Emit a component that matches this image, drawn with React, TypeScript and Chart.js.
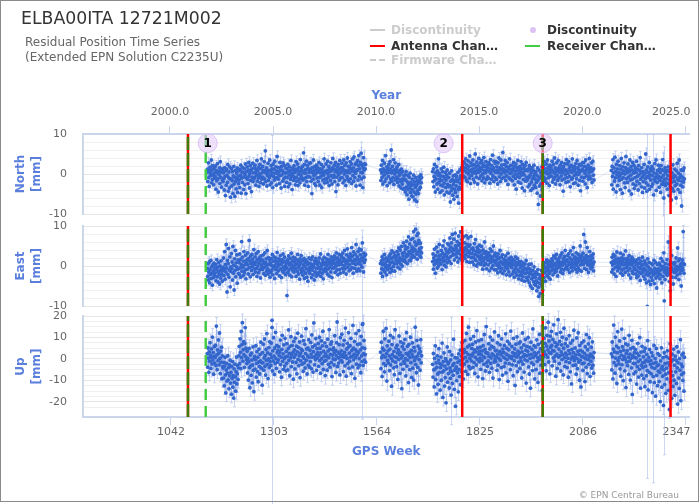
import React, { useEffect, useRef } from 'react';
import { Chart, registerables } from 'chart.js';

Chart.register(...registerables);

// ---------------- data ----------------
// first GPS week of each continuous data segment (weekly samples)
const SEGMENT_START_WEEKS = [1134, 1573, 1705, 2158];

const northA = [
  1.2,-1.9,0.5,2.8,-0.9,-3.1,0.8,1.7,-0.4,0.1,3.5,-2.2,1.0,-1.4,2.1,-0.3,-2.7,1.4,0.3,-1.0,
  -0.6,2.0,-3.8,0.9,-1.7,0.3,2.6,-1.2,-4.5,0.6,-0.2,1.5,-2.4,3.1,-0.8,0.5,-3.3,1.3,-1.5,0.9,
  -1.9,0.3,-1.1,-4.0,1.6,-0.6,-5.4,0.8,-2.8,1.2,-0.3,-2.1,2.4,-4.3,-0.9,0.5,-3.5,1.8,-1.3,-5.8,
  -1.2,1.3,-3.0,-1.6,0.6,-4.9,-0.5,1.9,-2.5,-0.8,-5.6,0.9,-1.8,-3.7,0.2,-1.3,1.5,-4.6,-0.6,-2.4,
  0.8,-1.5,-3.4,1.2,-0.3,2.2,-4.8,-1.0,0.5,-2.1,1.6,-0.8,-3.9,0.3,1.3,-2.7,-0.2,2.5,-4.9,-0.9,
  0.6,1.8,-1.3,-2.4,1.0,2.9,-0.5,-3.5,0.2,2.1,-1.6,0.9,-4.4,1.3,-0.8,2.7,-1.9,0.3,-1.2,1.5,
  -0.9,2.2,0.4,-2.8,1.2,-0.3,3.4,-1.8,0.8,-1.0,1.6,-3.1,0.0,2.4,-0.6,-2.2,1.3,3.8,-1.3,0.3,
  1.9,-0.8,-2.5,0.9,3.1,-1.2,0.6,5.8,-1.9,0.2,1.5,-3.0,1.0,-0.4,2.7,-1.6,0.5,-0.9,3.5,-2.7,
  0.9,-0.3,2.1,-2.2,1.3,0.3,-3.4,2.5,-0.6,1.2,-1.5,3.2,0.2,-1.0,1.8,-2.8,0.8,4.4,-0.9,0.0,
  -1.3,1.6,0.6,-2.4,2.9,-0.4,1.0,-3.5,1.9,-0.2,0.9,-1.8,2.8,0.4,-1.2,2.2,-3.1,0.3,-0.8,1.5,
  0.3,-2.1,1.3,-0.9,2.4,-3.2,0.6,-0.2,1.8,-2.5,0.9,-1.3,3.4,-0.6,0.2,-3.9,1.5,-0.4,1.0,-1.6,
  2.1,-1.0,0.4,-2.7,1.2,3.1,-0.8,-1.8,0.9,2.5,-2.9,0.0,1.6,-1.3,0.6,-2.2,3.6,-0.3,1.3,-0.9,
  0.8,1.9,-1.5,0.3,5.3,-1.2,2.4,-2.8,1.0,0.2,-0.9,3.2,-1.9,1.2,2.1,-0.6,-3.1,1.3,0.4,2.7,
  -0.8,1.0,2.8,-1.8,0.6,-4.9,1.6,0.3,-1.3,3.5,-0.4,0.9,-2.4,1.9,0.0,-2.9,1.2,2.2,-1.0,0.4,
  1.5,-1.9,0.8,2.9,-0.9,-2.8,1.3,0.3,-0.6,2.4,-3.4,1.0,0.2,-1.5,1.8,-0.3,3.8,-2.2,0.6,-1.2,
  0.4,2.5,-1.3,0.9,-2.1,3.2,0.0,-0.8,1.9,-2.9,1.2,0.6,-1.6,2.8,-0.4,0.8,-2.5,1.5,3.9,-0.9,
  1.3,-0.3,2.2,-1.9,0.6,2.9,-4.4,1.0,-0.8,1.8,0.4,-2.7,2.4,-0.2,1.2,-1.5,3.4,0.3,-1.0,1.6,
  0.6,2.7,-0.9,1.6,-2.2,1.0,3.5,0.0,-1.6,2.2,0.8,-2.9,2.8,0.4,-0.6,4.0,-1.3,0.9,1.9,-1.9,
  1.8,0.3,3.1,-1.2,1.3,2.5,-2.4,0.8,3.8,-0.4,1.5,-1.8,4.3,0.6,-0.9,2.4,0.2,-3.0,2.8,1.0,
  0.9,3.4,-1.5,2.1,4.6,-0.6,1.3,-2.8,2.9,0.4,5.2,-1.2,2.2,0.3,-3.4,1.6,4.1,-0.8,1.2,2.5,
  1.3,2.4,
];
const northB = [
  1.0,-1.6,2.2,0.3,-0.9,3.4,-2.5,1.3,0.6,-0.3,2.7,-1.9,0.9,4.6,-1.2,0.2,1.8,-2.9,0.8,1.5,
  -0.6,2.4,0.4,-2.2,3.1,1.2,-1.3,6.0,0.3,-1.8,1.9,0.8,-0.9,3.6,-2.6,1.0,0.0,2.8,-1.5,0.6,
  1.3,-0.8,1.8,-2.1,0.5,-1.2,2.4,-3.0,-0.3,0.9,-1.9,0.2,-3.5,1.2,-1.3,-2.5,0.6,-1.6,-3.8,-0.4,
  -1.2,-3.6,-0.2,-4.5,-1.5,0.6,-3.3,-5.2,-2.0,-0.3,-3.9,-2.6,-6.3,-0.8,-3.4,0.2,-4.6,-2.1,-2.8,-5.5,
  -3.9,-1.3,-5.7,-2.7,-0.3,-4.5,-2.0,-6.5,-3.4,-0.9,-5.0,-2.8,-6.9,-1.6,-4.2,-2.3,-4.9,-0.7,-3.8,-1.9,
  -1.2,-3.3,-0.2,-2.2,-0.9,
];
const northC = [
  0.6,-1.9,1.3,-3.2,-0.6,2.4,-1.5,-4.5,0.3,-1.2,1.8,-2.5,0.8,-3.8,-0.3,3.8,-2.1,0.2,-1.3,-4.6,
  -0.5,-2.8,1.3,-1.6,-4.2,0.6,-3.0,-0.6,1.7,-2.3,-5.2,-1.2,0.4,-3.4,-1.5,-0.3,-4.5,1.0,-2.6,-0.8,
  -3.2,-0.9,-4.8,0.2,-2.9,-7.0,-1.8,-4.2,0.8,-3.5,-1.4,-5.3,-0.5,-2.6,-6.3,-1.9,-3.8,-0.2,-4.6,-1.5,
  -3.0,-0.6,-5.6,-1.9,0.4,-3.9,-7.3,-1.3,-3.3,1.0,-2.3,-0.5,-3.8,1.5,-1.2,0.6,1.9,-0.5,1.4,3.0,
  0.9,2.7,-0.8,1.6,3.8,-1.5,0.4,2.2,-1.9,1.2,3.3,0.0,1.9,-1.0,4.5,0.7,-2.4,2.8,1.0,-0.4,
  2.1,0.3,3.5,-1.3,1.3,2.4,-2.0,0.6,5.0,0.1,1.8,-0.8,3.0,1.0,-2.5,2.2,0.4,3.9,-1.1,1.5,
  0.7,2.8,-0.5,1.2,3.4,-1.7,1.8,0.0,2.5,-1.0,4.1,0.9,-2.2,1.9,0.3,3.1,-1.4,1.0,2.2,-0.7,
  1.6,-1.1,2.9,0.6,2.4,-2.3,1.3,3.6,0.1,-1.3,2.1,0.9,4.7,-0.5,1.5,-1.9,3.2,0.8,-0.9,2.7,
  0.4,3.1,-1.4,1.8,0.9,-2.5,2.8,0.3,4.0,-0.7,1.5,1.0,-1.9,3.5,0.0,2.2,-1.1,1.3,5.4,0.6,
  1.2,-0.8,2.4,0.3,3.4,-1.6,0.9,1.9,-0.5,2.9,0.6,-2.6,1.6,1.3,-1.0,3.8,0.1,2.1,-1.4,1.0,
  0.3,2.2,-1.7,1.3,-0.6,2.9,0.9,-2.7,1.8,0.0,-1.1,2.5,-3.8,0.8,1.6,-0.5,3.4,-2.0,1.2,0.2,
  -0.9,1.9,0.6,-2.3,3.1,-0.3,1.3,-3.5,2.4,0.4,-1.4,1.5,-0.2,-4.2,2.1,0.9,-1.8,2.9,-0.8,1.0,
  -1.5,0.8,-3.2,1.3,-0.9,2.1,-2.6,-0.3,1.2,-4.1,0.4,-2.0,1.6,-1.2,-3.6,0.9,-0.6,2.2,-2.8,0.0,
  -1.3,-3.4,0.6,-2.1,-0.3,-4.8,1.5,-1.6,-7.6,-0.8,1.0,-3.0,-1.0,-5.5,0.3,-2.4,-0.5,1.8,-3.9,-1.2,
  0.9,2.1,-0.8,3.1,-1.8,1.3,0.3,-1.2,2.5,0.6,-2.3,3.5,0.0,1.6,-0.9,1.2,-2.9,2.2,0.4,-0.5,
  1.8,-0.6,1.0,3.2,-2.0,0.8,2.4,-1.3,0.2,4.0,-0.8,1.5,-2.5,0.6,2.8,-0.3,1.2,-1.6,3.4,0.9,
  -1.0,1.6,0.4,-2.7,2.2,0.9,-0.5,2.9,-1.5,1.3,0.3,-4.3,1.9,0.8,-1.2,2.6,-0.2,1.0,-2.1,3.6,
  0.6,-0.9,2.5,0.2,-1.9,3.1,1.2,-0.6,1.8,-3.2,0.8,2.2,-1.3,0.4,3.8,-1.0,1.5,-2.4,0.9,1.9,
  -0.3,1.3,-2.2,2.6,0.4,-1.2,3.4,-0.2,1.6,-2.8,1.0,0.0,2.4,-1.6,0.6,-4.2,2.1,0.9,-0.8,2.8,
  1.2,-1.8,0.8,2.9,-0.9,1.9,0.2,-2.5,3.5,0.9,-0.5,1.5,-3.4,1.3,2.2,-1.3,0.3,3.9,-0.6,1.0,
  1.6,-1.2,0.6,2.8,-2.1,0.9,3.2,-0.3,1.3,-1.5,
];
const northD = [
  0.9,-2.7,1.9,-0.6,3.6,-3.8,0.3,1.5,-1.8,4.2,-1.0,0.6,-4.5,2.4,-0.2,1.3,-2.9,3.2,-0.8,0.4,
  -1.6,2.1,-0.4,-3.9,1.2,3.9,-1.3,0.2,-4.8,1.8,-0.9,0.8,2.8,-2.2,0.0,-3.4,1.6,4.4,-1.2,0.9,
  0.3,-2.1,2.5,-0.8,1.3,-4.2,0.6,3.5,-1.5,-0.3,1.9,-5.0,1.0,-1.3,2.9,-2.5,0.2,2.2,-3.6,0.8,
  -0.9,1.5,-2.8,0.4,3.2,-1.8,-0.6,1.2,-4.0,2.1,-0.2,-2.4,0.9,4.1,-1.3,0.3,-3.2,1.6,-0.8,-4.6,
  0.6,-1.9,-0.3,2.4,-3.5,0.2,-1.2,5.0,-2.2,1.0,-4.3,-0.6,1.8,-2.8,0.4,-0.9,2.9,-3.8,-0.2,1.3,
  -1.5,0.8,-3.1,1.9,-0.4,-2.5,1.2,-5.2,0.3,-1.3,2.6,-1.8,-0.8,3.5,-4.1,0.0,-2.1,0.9,-1.0,2.2,
  -0.6,-3.3,1.3,-1.6,0.4,-4.6,2.1,-0.9,-2.6,1.0,3.6,-1.9,-0.3,-6.0,0.8,-1.3,1.6,-2.9,0.3,-2.2,
  -1.2,0.9,-3.8,-0.4,1.8,-2.4,-5.4,0.6,-1.5,-3.1,1.3,-0.8,-6.5,-2.0,0.3,-3.6,2.3,-1.0,-4.3,-0.3,
  -1.9,1.2,-2.9,-0.6,-6.0,0.8,-2.5,2.7,-1.3,-3.9,0.2,-1.6,3.5,-0.9,-4.6,-0.2,-2.8,1.0,-8.0,-1.8,
  -0.8,-3.2,0.9,-2.0,1.5,-1.2,
];

const eastA = [
  -0.6,-2.6,0.6,-3.5,-1.5,1.0,-4.2,-0.9,-2.1,1.4,-3.1,-0.2,-1.8,-4.8,0.3,-1.2,-2.9,0.7,-2.3,-0.5,
  -1.7,0.4,-3.7,-0.8,1.6,-2.7,-0.3,-4.0,-1.4,0.9,-2.1,-4.5,0.0,-1.1,-3.0,1.3,-2.0,-0.6,-3.8,-1.2,
  -0.3,2.0,-2.4,-0.8,3.6,-3.3,0.4,-1.5,5.4,-0.5,-6.5,1.4,-2.1,0.6,4.4,-2.8,-1.0,2.3,-5.2,-0.2,
  -1.4,3.1,-0.6,1.0,-3.5,4.9,-1.8,0.2,-6.0,1.8,-1.1,3.9,-2.7,0.8,-0.2,2.8,-4.3,-0.8,1.5,-1.9,
  0.9,-2.1,3.0,-0.5,1.6,-2.8,0.4,6.1,-1.3,2.2,-0.3,-2.4,1.2,3.6,-1.7,0.3,-1.0,2.7,-3.2,0.7,
  1.5,-0.8,3.3,0.3,-2.0,1.9,6.4,-0.4,1.2,-2.7,2.5,0.6,-1.1,2.9,-0.1,1.7,-2.1,0.9,4.1,-0.7,
  0.4,2.3,-1.5,1.0,3.1,-0.6,-2.6,1.6,0.0,3.6,-1.7,0.7,2.0,-1.0,1.3,-3.0,2.5,0.3,-0.4,1.5,
  -0.9,1.2,2.8,-1.9,0.6,-0.3,3.3,-2.3,0.9,1.8,-1.3,0.2,3.9,-0.7,-2.0,2.1,0.4,-1.2,1.5,-2.8,
  0.7,-1.6,1.9,0.1,-1.0,2.9,-2.2,1.2,-0.4,2.3,0.0,-3.1,1.3,2.0,-0.9,0.6,-1.9,3.4,-0.2,1.0,
  -1.2,1.8,0.3,-2.5,1.3,2.6,-0.7,0.4,-2.9,1.6,0.9,-1.3,3.0,-0.3,-1.7,1.2,2.2,-0.9,0.0,-2.2,
  0.6,-0.4,-7.4,1.5,-1.6,0.9,2.5,-1.0,0.3,-2.3,1.9,0.7,-0.6,3.2,-2.7,0.2,1.3,-1.2,2.2,-0.3,
  -1.5,1.0,2.0,-0.7,0.3,-2.6,1.6,0.6,-1.3,2.9,-0.4,-2.0,1.2,0.1,-3.3,1.8,0.7,-0.9,2.6,-1.6,
  -0.6,1.3,-2.3,0.3,-1.2,1.9,-3.1,-0.1,0.9,-1.8,1.5,-0.7,-2.8,1.0,0.4,-3.8,0.7,-1.3,2.0,-0.4,
  -1.9,0.6,-0.9,1.6,-2.9,0.0,-1.0,2.3,-2.2,0.4,-0.3,-3.5,1.3,-1.5,0.7,1.9,-2.5,-0.6,1.2,-1.8,
  0.3,-2.2,1.0,-0.4,2.0,-1.5,-0.7,3.0,-2.6,0.6,0.0,-1.8,1.5,-0.9,-3.2,0.9,2.2,-1.3,0.4,-0.6,
  0.9,-1.2,1.8,0.1,-2.0,1.3,2.9,-0.7,0.6,-2.5,1.6,-0.3,1.0,-1.5,2.3,0.4,-2.9,1.2,-0.6,1.9,
  1.3,-0.4,2.5,0.6,-1.6,1.8,0.0,3.3,-1.0,0.9,2.0,-2.2,1.2,0.3,2.9,-0.9,1.5,-1.8,0.7,2.6,
  0.4,2.2,-0.6,3.2,1.2,-1.5,1.9,0.1,3.9,-0.7,1.5,0.9,-2.0,2.8,0.6,4.3,-0.3,1.3,2.3,-1.2,
  1.8,0.3,3.0,-0.9,2.2,1.3,4.6,-0.4,2.5,0.7,-1.8,3.5,1.2,1.6,-0.6,2.9,0.4,5.4,1.5,-1.3,
  2.3,0.6,3.6,-0.7,1.6,4.3,1.0,-1.2,2.8,0.3,4.0,1.9,-0.3,5.8,1.3,2.2,-1.5,3.2,0.9,2.6,
  1.5,2.9,
];
const eastB = [
  0.6,-1.8,1.3,-0.7,2.3,-2.6,0.3,1.6,-1.0,0.7,2.9,-1.5,0.4,-0.3,2.0,-2.2,1.2,0.0,-0.9,1.8,
  1.3,-0.4,2.5,0.3,-1.6,3.0,0.9,-0.6,1.9,3.8,-1.2,1.0,2.2,-0.1,3.3,0.6,-1.3,2.6,0.7,1.6,
  2.3,0.6,3.6,1.3,-0.3,2.9,4.5,0.9,2.0,-0.7,4.0,1.5,0.4,4.9,1.7,0.0,3.2,2.5,5.8,1.2,
  3.4,1.6,5.0,1.0,4.2,2.3,6.2,2.9,0.6,4.6,2.6,7.3,3.6,1.4,5.5,3.2,1.3,6.6,2.0,4.0,
  4.8,2.7,6.9,3.6,8.6,4.3,2.2,6.0,3.9,9.2,5.2,3.0,7.6,1.7,5.6,8.2,3.5,6.4,4.3,2.6,
  3.7,5.7,2.2,4.6,3.3,
];
const eastC = [
  1.1,3.0,-0.8,2.0,0.3,4.2,1.4,-1.8,2.6,0.7,4.7,1.3,-0.5,3.5,1.7,0.0,2.5,5.4,0.9,1.6,
  2.7,0.5,3.9,1.7,-0.9,3.2,5.0,1.1,2.2,6.3,0.2,2.9,1.4,4.3,-0.2,2.5,3.6,0.8,5.6,1.9,
  3.3,5.3,1.2,4.1,7.0,2.3,4.7,0.6,5.8,3.6,7.9,2.7,4.3,2.9,6.7,1.5,4.0,8.2,5.0,3.0,
  4.4,2.2,6.1,3.7,1.0,5.2,7.5,3.1,5.6,1.8,4.0,8.5,4.7,2.6,6.6,1.3,4.3,3.4,7.3,2.4,
  3.8,5.8,1.9,4.6,2.8,7.6,4.2,1.1,5.4,3.4,7.0,2.4,4.9,3.7,0.9,5.3,3.1,7.4,2.1,4.3,
  3.1,1.0,4.5,2.2,3.9,0.3,5.6,1.8,2.9,6.6,1.4,3.6,0.0,4.7,2.5,4.2,0.7,3.4,2.1,5.2,
  1.6,3.7,0.4,2.7,4.9,1.0,2.1,-0.8,4.0,1.3,3.2,0.2,6.0,2.0,0.6,3.6,2.4,-0.7,2.9,1.5,
  2.3,0.3,3.3,1.5,-1.2,2.6,4.3,0.9,1.8,-0.5,3.7,1.2,2.2,0.1,5.0,1.4,-0.9,2.7,0.8,3.2,
  1.3,-1.0,2.3,0.2,1.7,-1.7,3.0,0.7,-0.5,2.0,0.0,3.9,-1.4,1.1,2.2,-0.6,0.8,2.8,-1.9,0.5,
  0.4,1.7,-1.2,1.1,-0.3,2.5,0.5,-2.2,1.4,0.8,-0.7,3.2,0.1,-1.5,1.9,0.7,-2.4,1.3,0.2,2.2,
  -0.4,1.0,-2.0,0.5,1.6,-1.3,0.3,-2.8,1.3,-0.7,2.3,-1.7,0.0,0.8,-2.3,1.9,-1.0,0.4,-3.2,1.1,
  -1.4,0.4,-2.4,-0.4,1.1,-2.0,-3.5,0.1,-1.1,-2.7,0.7,-1.6,-0.5,-3.8,0.5,-1.9,-0.8,1.4,-2.9,-0.9,
  -1.6,-3.6,-0.5,-2.7,0.4,-4.2,-1.9,-0.8,-5.0,-1.4,0.5,-3.2,-2.2,-5.6,-1.1,-2.8,-3.9,-0.2,-2.0,-4.6,
  -2.8,-4.8,-1.5,-3.7,-6.2,-2.0,-4.1,-0.9,-5.3,-7.6,-3.1,-2.2,-4.4,-6.9,-2.6,-3.5,-1.1,-5.0,-2.9,-6.0,
  -1.9,0.4,-2.9,-0.6,-1.6,0.9,-3.8,-0.2,-1.3,1.5,-2.3,-0.5,0.5,-2.8,-1.0,1.2,-1.8,-0.1,-3.3,0.2,
  0.8,-1.2,1.8,-0.4,1.3,-2.2,0.3,2.5,-0.9,0.6,-1.6,2.0,0.0,-1.3,2.9,-0.6,1.0,-2.5,1.6,0.4,
  1.2,-0.3,2.2,0.4,-1.5,2.8,0.9,-0.8,3.3,0.2,-1.9,1.8,1.0,-1.0,2.4,0.6,3.9,-0.6,1.3,-0.2,
  1.6,0.0,2.6,-0.9,1.0,3.1,0.4,-1.6,2.0,0.7,3.8,-0.4,1.5,0.3,-1.2,2.8,0.9,4.6,-0.3,1.9,
  0.6,2.3,-0.8,1.3,3.3,0.2,-1.5,1.9,0.9,-0.5,2.9,1.2,-1.0,2.2,5.0,0.3,1.6,-1.3,2.5,0.7,
  1.3,3.2,0.4,7.9,2.0,-0.6,1.5,6.0,0.9,2.6,-0.9,1.8,4.6,0.3,1.2,-1.6,2.3,0.6,3.6,0.0,
  1.5,-0.7,2.6,0.9,-0.3,2.0,0.4,3.0,-1.2,1.0,
];
const eastD = [
  0.9,-1.5,2.2,0.3,-0.9,2.9,1.3,-2.0,0.6,2.5,-0.4,1.6,-2.6,1.0,3.5,0.0,-1.2,1.9,0.7,-0.6,
  1.5,-0.3,0.9,3.2,-1.8,0.4,2.0,-1.0,1.2,-2.3,2.8,0.3,-0.7,1.8,0.7,-1.6,3.8,0.6,-0.4,1.3,
  0.1,1.9,-1.2,0.9,-2.2,2.6,0.4,-0.6,1.5,-3.0,1.0,0.3,2.2,-1.3,0.6,-1.9,1.6,-0.3,1.2,-0.9,
  -0.7,1.0,-2.0,0.3,-2.9,1.5,-1.2,0.6,-2.5,-0.3,1.9,-1.6,0.7,-3.6,-0.6,1.2,-1.9,0.1,-1.0,2.2,
  -1.5,0.4,-2.6,-0.6,1.3,-3.3,-1.0,0.7,-2.0,-4.2,0.1,-1.3,1.8,-2.3,-0.3,-3.8,0.9,-1.8,-0.7,-4.6,
  -0.9,-2.8,0.6,-1.6,-3.6,0.3,-1.3,-2.2,1.4,-4.4,-0.6,-1.9,0.9,-3.0,-1.0,-5.5,-1.5,0.4,-2.5,-0.7,
  -1.8,0.7,-1.2,-3.2,0.1,-2.2,1.9,-0.9,-4.2,-0.4,1.2,-2.6,-0.1,3.3,-1.5,-0.7,-3.4,0.6,-1.3,-2.0,
  -0.4,1.6,-2.3,-1.0,6.0,-1.8,0.4,-3.9,-0.7,-6.2,1.0,-1.5,-0.3,2.6,-2.8,-0.9,0.7,-4.5,-1.2,0.3,
  -1.6,0.9,-0.6,-2.9,2.0,-1.3,-0.1,-2.2,4.5,-0.9,1.3,-3.4,-0.4,1.8,-1.9,0.3,-1.2,-5.0,0.7,-0.3,
  1.5,-1.0,8.6,0.6,-1.8,0.4,
];

const upA = [
  2.5,-3.8,5.1,0.4,-6.2,3.3,-1.0,7.6,1.8,-4.4,0.9,4.7,-2.3,10.2,-0.5,3.0,-7.1,1.2,5.8,-1.9,
  0.7,6.4,-3.1,15.3,1.9,-5.0,4.2,-0.8,8.9,2.6,-2.7,12.1,0.3,-6.8,3.7,-1.5,5.5,-9.2,1.4,-3.6,
  -4.2,-8.9,-1.6,-12.5,-3.3,0.8,-7.4,-15.8,-5.1,-2.0,-10.3,-6.6,1.5,-9.7,-4.0,-13.9,-2.8,-7.9,-0.6,-11.2,
  -6.3,-16.4,-3.5,-9.0,-1.2,-13.1,-7.7,-18.2,-4.6,-10.8,-2.4,-8.3,-15.0,-5.9,0.9,-11.6,-6.9,-3.0,-9.5,-4.1,
  1.5,5.9,-2.2,9.4,3.1,-4.5,12.8,0.6,6.7,16.9,-1.0,4.3,8.1,2.0,-3.9,7.2,14.6,1.1,5.0,-0.4,
  -2.1,3.6,-6.5,0.2,-9.8,-1.3,4.9,-4.0,-13.4,1.8,-3.2,-7.6,2.7,-0.5,-11.1,-2.8,5.6,-5.3,-15.2,0.4,
  1.2,-4.7,-0.3,6.2,-8.4,-2.0,3.4,-5.9,0.8,-10.6,-1.4,4.6,-3.5,-7.0,2.1,-0.9,7.8,-4.3,-1.7,-12.2,
  3.0,-1.8,6.9,-5.2,0.5,9.3,-3.4,1.7,-7.5,4.4,-0.6,11.8,-2.5,2.8,-9.1,0.0,5.3,-4.0,8.0,-1.3,
  2.2,-3.0,7.4,0.6,14.7,-5.6,3.8,-0.9,9.9,1.3,-7.2,5.1,-2.1,12.4,0.2,-4.4,6.3,2.9,-1.5,4.0,
  -0.4,5.7,1.6,-6.0,3.2,8.8,-2.6,0.9,-8.5,4.5,11.0,-1.1,2.4,-4.8,6.6,0.3,-3.3,9.6,1.0,-5.5,
  3.5,-2.0,7.1,1.2,-5.1,4.8,13.5,-0.7,2.6,-7.8,5.9,0.5,10.4,-3.6,1.9,6.3,-1.4,3.1,-9.4,8.2,
  0.8,4.2,-4.6,9.7,2.0,-1.6,6.0,-6.9,3.3,12.0,-0.2,5.4,-3.1,1.5,7.9,-8.7,2.7,-0.9,4.6,10.6,
  -2.4,3.9,1.1,-5.7,8.5,0.3,-1.8,6.8,-4.2,2.5,14.1,-0.6,4.7,-7.0,1.4,5.2,-2.9,9.0,0.7,-3.8,
  4.1,-1.2,7.7,2.3,-4.5,11.2,0.9,5.6,-6.1,3.4,16.8,1.0,-2.7,6.4,-0.3,9.5,2.0,-5.3,4.8,0.4,
  3.0,7.2,-3.4,1.6,10.1,-0.8,5.0,-6.6,2.8,8.4,0.1,-2.2,6.1,12.9,-4.9,3.6,1.2,-1.0,7.5,-7.7,
  2.4,-0.5,5.8,1.3,-5.2,9.2,3.7,-2.5,0.6,13.7,4.5,-3.8,2.1,6.9,-1.6,8.0,-8.2,1.8,4.3,0.0,
  5.2,-2.8,2.9,10.8,-0.2,4.0,-6.3,1.5,7.6,17.2,-3.5,3.2,0.5,-1.9,6.7,2.6,-7.4,9.9,1.1,-0.7,
  3.8,11.5,-1.4,2.0,6.5,-5.9,0.8,8.7,3.1,-3.2,14.4,1.6,-8.0,4.6,0.3,7.3,-2.1,5.5,12.3,-4.3,
  2.7,-1.0,6.2,0.9,9.6,-6.8,3.9,1.2,-3.7,15.6,5.0,-0.4,2.2,8.1,-9.0,4.4,0.6,11.9,-2.4,3.5,
  1.9,6.8,-4.1,3.0,13.2,0.2,-2.9,7.0,4.2,-6.4,10.5,1.4,-1.2,5.3,16.4,-3.0,2.5,8.6,-0.6,4.9,
  2.0,-1.5,
];
const upB = [
  3.2,-4.5,7.8,0.6,-8.1,5.0,1.7,12.9,-2.2,4.1,-6.0,9.4,0.9,-3.0,14.2,2.5,-10.3,6.1,-0.7,3.8,
  -1.9,8.3,1.4,-5.4,4.6,11.0,-2.8,0.3,-12.7,6.7,2.0,-0.9,9.9,-4.1,3.5,-7.3,1.1,13.6,-1.5,5.2,
  0.7,-3.6,6.4,2.8,-9.5,4.3,-0.2,10.7,1.9,-6.7,3.0,8.0,-2.4,0.4,-13.8,5.7,1.6,-4.8,7.3,-1.1,
  4.5,-2.0,9.1,0.1,-7.9,2.6,12.3,-3.3,5.9,-0.5,1.8,-11.0,6.8,3.1,-5.0,0.8,10.1,-1.7,4.0,-8.6,
  2.3,7.5,-4.3,1.0,-9.8,5.4,-0.8,3.7,14.8,-2.6,0.5,-6.4,8.7,1.3,-3.9,6.0,-12.1,2.7,-0.3,4.8,
  -5.2,3.4,9.0,-1.8,1.5,
];
const upC = [
  -2.5,-8.4,2.6,-5.1,-13.0,0.3,-4.7,6.1,-9.6,-1.8,-16.2,-3.9,1.4,-7.0,-11.8,-0.5,4.8,-6.3,-2.1,-14.5,
  -4.0,0.9,-9.9,-2.7,7.4,-6.1,-17.9,-1.2,-5.5,2.8,-12.6,-3.3,-8.7,0.2,-20.4,-4.6,-1.0,5.6,-10.8,-2.3,
  -6.8,-1.6,-13.5,3.5,-4.2,-9.0,-0.4,-16.8,-5.9,1.9,-11.4,-3.0,-7.6,9.2,-2.0,-14.1,-5.2,0.6,-22.0,-4.5,
  -3.7,-10.1,0.5,-6.4,-1.5,-15.3,2.4,-4.9,-8.2,-0.8,4.1,-12.0,-2.6,1.3,-6.0,7.7,-3.1,0.0,-9.3,2.9,
  4.4,-2.3,8.6,0.7,-5.8,3.1,11.9,-1.0,5.6,-7.2,2.0,14.8,-3.4,6.4,0.3,-4.6,9.3,1.8,-0.9,4.9,
  1.5,6.9,-3.9,2.7,10.5,-1.6,4.2,-6.7,0.8,7.9,3.4,-2.8,13.2,-0.2,5.1,-8.3,2.3,8.5,-1.3,3.6,
  0.4,5.5,-4.8,2.1,9.0,-0.7,3.8,-9.1,6.2,1.0,-2.5,11.4,0.6,4.5,-5.6,2.9,15.1,-1.8,3.0,-3.4,
  2.6,-0.9,7.1,1.3,-6.2,4.7,10.2,-2.1,0.5,6.0,-4.3,2.4,8.8,-8.9,1.7,5.3,-1.4,12.6,0.0,3.9,
  -1.2,4.0,1.1,-5.3,7.5,2.3,-2.9,10.8,0.2,-9.6,3.5,6.6,-0.6,1.9,-4.0,9.4,2.8,-7.5,4.6,0.9,
  3.1,-3.6,6.3,0.4,-1.9,11.7,-6.5,2.2,5.0,-0.3,8.2,-10.4,1.6,4.3,-2.2,7.0,0.7,-5.0,13.0,1.2,
  0.2,5.8,-2.7,3.0,-7.8,9.6,1.4,-0.8,4.7,-12.3,2.5,6.9,-3.1,0.9,10.3,-5.9,3.7,1.8,-1.5,7.4,
  2.9,-4.4,8.0,0.5,-1.0,5.2,-8.8,3.3,12.1,-2.4,1.2,6.5,-6.1,2.0,-0.4,9.1,4.1,-11.2,1.5,5.9,
  -0.9,3.6,10.0,-3.7,1.9,-7.0,5.4,0.3,-13.6,7.8,2.1,-1.8,4.4,-5.4,14.0,0.8,-2.6,6.2,3.0,-9.3,
  1.7,5.6,-4.9,2.4,8.9,-1.1,0.6,-10.9,6.8,3.2,-0.2,11.5,-6.6,1.4,4.8,-2.9,7.6,0.0,-14.7,3.9,
  5.2,1.0,9.7,3.4,-2.6,7.3,14.5,2.1,-5.5,6.0,11.0,0.8,4.2,17.1,-1.4,8.4,3.0,-6.9,10.6,5.5,
  2.6,12.8,6.3,-3.2,4.0,9.1,0.5,15.9,3.7,-1.0,7.7,1.4,-8.0,5.8,11.7,2.3,-4.4,6.9,18.3,0.9,
  4.6,-2.1,8.2,1.5,12.4,-5.6,3.3,6.6,-0.3,10.1,2.0,-7.4,5.0,14.3,0.6,-3.5,7.1,2.7,-1.2,9.3,
  1.8,-4.0,6.0,0.3,-8.5,3.9,10.9,-1.7,2.5,-6.0,7.4,0.0,-11.6,4.4,1.1,8.6,-3.0,2.9,13.4,-0.8,
  0.5,5.1,-2.8,1.9,-7.1,9.8,0.2,-4.5,3.6,12.2,-1.4,2.1,-9.9,6.3,-0.6,4.0,-13.0,1.3,7.5,-2.2,
  3.4,-5.3,0.8,8.4,-1.9,2.6,-10.5,5.7,0.1,-3.8,11.3,1.6,-6.8,4.3,-0.2,7.0,-2.5,9.9,0.9,-8.1,
  2.2,-1.0,5.5,-4.2,1.4,8.0,-2.9,0.6,-6.6,3.0,
];
const upD = [
  2.4,-5.1,7.9,1.0,-9.3,4.6,15.8,-1.7,3.3,-6.6,10.2,0.4,-3.0,6.0,-11.4,2.9,12.7,-0.8,5.2,-2.3,
  0.6,8.4,-4.6,3.5,-8.0,1.8,13.9,-2.7,5.7,-0.2,-10.1,4.1,1.2,9.6,-5.5,0.0,7.0,-13.3,2.6,-1.4,
  3.9,-3.1,6.5,0.9,-7.2,11.0,-1.0,2.3,-9.8,4.8,0.3,-4.1,8.7,-16.5,1.5,5.4,-2.0,-6.9,3.0,0.7,
  -2.2,4.4,-6.0,0.5,-11.7,2.7,-3.6,7.3,-1.2,-8.4,1.6,-4.8,10.0,-0.4,-13.6,3.2,-2.9,-7.5,5.9,-1.8,
  -4.0,1.0,-9.1,3.6,-1.5,-12.9,5.0,-3.3,-0.6,-7.8,2.1,-5.4,8.5,-14.4,-1.0,0.7,-6.2,4.4,-10.6,-2.5,
  -0.8,-6.9,3.0,-3.9,-15.7,1.4,-8.2,-2.0,6.3,-11.0,-4.4,0.2,-17.3,-1.6,4.9,-7.6,-3.2,-12.4,2.5,-5.7,
  -2.7,-10.5,1.7,-6.3,-19.8,-0.9,-4.6,5.2,-13.1,-3.5,-8.0,0.6,-21.6,-5.1,2.9,-11.9,-2.2,-7.1,-16.0,1.1,
  -4.3,-9.3,3.8,-1.8,-14.6,-6.4,0.4,-23.5,-3.0,7.1,-10.7,-5.8,-1.1,-18.3,2.2,-7.7,-12.8,-0.3,4.6,-9.9,
  -2.9,-16.9,1.3,-6.0,-0.6,-11.4,5.7,-4.1,-21.0,-1.7,3.3,-8.9,-13.7,0.2,-5.2,9.0,-19.4,-2.4,-7.3,1.9,
  -3.6,-10.0,2.7,-6.5,-15.0,0.8,
];

// formal errors (mm) per segment
const SIGMA_NORTH = [1.4, 1.5, 1.4, 1.5];
const SIGMA_EAST = [1.4, 1.5, 1.4, 1.5];
const SIGMA_UP = [4.0, 4.2, 4.0, 4.2];

// isolated solutions with very large formal errors
const OUTLIER_PANEL = ['yU', 'yE', 'yE', 'yE', 'yU', 'yU', 'yN', 'yN', 'yN'];
const OUTLIER_WEEK = [1298, 2249, 2263, 2292, 1751, 1527, 1524, 1531, 2290];
const OUTLIER_VALUE = [18, -10.1, -10.6, -8.7, -5.6, 16, 2.5, 1.0, -2.5];
const OUTLIER_SIGMA = [86, 43, 43.6, 38.5, 25, 44, 5.5, 5.0, 8];

// station events (GPS week)
const ANTENNA_WEEKS = [1085, 1780, 1984, 2308];
const RECEIVER_WEEKS = [1085, 1130, 1984];
const DISCONTINUITY_WEEKS = [1135, 1733, 1984];
const DISCONTINUITY_LABELS = ['1', '2', '3'];
const DISCONTINUITY_LEVEL = 7.7;

// axes
const GPS_WEEK_TICKS = [1042, 1303, 1564, 1825, 2086, 2347];
const YEAR_TICKS = [2000, 2005, 2010, 2015, 2020, 2025];
const WEEK_RANGE = [819, 2356];
const YEAR_RANGE = [1995.78, 2025.21];

// ---------------- helpers ----------------
const FONT = '"DejaVu Sans", "Liberation Sans", sans-serif';
const POINT_COLOR = '#3366cc';
const AXIS_TITLE_COLOR = '#5b7fdd';
const AXIS_LINE = '#ccd6eb';

type Pt = { x: number; y: number; e: number };

function buildSeries(segs: number[][], sig: number[]): Pt[] {
  const out: Pt[] = [];
  segs.forEach((seg, s) => {
    seg.forEach((v, i) => out.push({ x: SEGMENT_START_WEEKS[s] + i, y: v, e: sig[s] }));
  });
  return out;
}

const PANELS = [
  { id: 'yN', series: buildSeries([northA, northB, northC, northD], SIGMA_NORTH), min: -10, max: 10, step: 2, title: ['North', '[mm]'], weight: 5, stackWeight: 80 },
  { id: 'yE', series: buildSeries([eastA, eastB, eastC, eastD], SIGMA_EAST), min: -10, max: 10, step: 2, title: ['East', '[mm]'], weight: 3, stackWeight: 80 },
  { id: 'yU', series: buildSeries([upA, upB, upC, upD], SIGMA_UP), min: -27, max: 20, step: 2.5, title: ['Up', '[mm]'], weight: 1, stackWeight: 101 },
];

const isMajor = (v: number) => Math.abs(v % 10) < 1e-9;

function yAxis(p: any) {
  return {
    type: 'linear',
    position: 'left',
    stack: 'panes',
    stackWeight: p.stackWeight,
    weight: p.weight,
    min: p.min,
    max: p.max,
    afterFit: (s: any) => { s.width = 75; },
    ticks: {
      stepSize: p.step,
      autoSkip: false,
      color: '#666666',
      font: { size: 11, family: FONT },
      padding: 16,
      callback: (v: any) => (isMajor(Number(v)) ? String(v) : ''),
    },
    grid: {
      drawTicks: false,
      color: (c: any) => (c.tick && isMajor(c.tick.value) ? '#e6e6e6' : '#f0f0f0'),
      lineWidth: 1,
    },
    border: { color: AXIS_LINE, width: 2 },
    title: {
      display: true,
      text: p.title,
      color: AXIS_TITLE_COLOR,
      font: { size: 12, weight: 'bold', family: FONT, lineHeight: 1.35 },
      padding: { top: 5, bottom: 0 },
    },
  };
}

function gapAxis(weight: number, stackWeight: number) {
  return { type: 'linear', position: 'left', stack: 'panes', stackWeight, weight, display: false, min: 0, max: 1 };
}

const errorBarPlugin = {
  id: 'errorBars',
  beforeDatasetsDraw(chart: any) {
    const { ctx, chartArea } = chart;
    const xs = chart.scales.x;
    ctx.save();
    ctx.beginPath();
    ctx.rect(chartArea.left, chartArea.top, chartArea.right - chartArea.left, chart.height - chartArea.top);
    ctx.clip();
    ctx.strokeStyle = 'rgba(160,182,236,0.55)';
    ctx.lineWidth = 1;
    chart.data.datasets.forEach((ds: any) => {
      if (!ds.errorBars) return;
      const ys = chart.scales[ds.yAxisID];
      ctx.beginPath();
      ds.data.forEach((p: Pt) => {
        const px = Math.round(xs.getPixelForValue(p.x)) + 0.5;
        const y1 = ys.getPixelForValue(p.y + p.e);
        const y2 = ys.getPixelForValue(p.y - p.e);
        ctx.moveTo(px, y1); ctx.lineTo(px, y2);
        ctx.moveTo(px - 1.5, y1); ctx.lineTo(px + 1.5, y1);
        ctx.moveTo(px - 1.5, y2); ctx.lineTo(px + 1.5, y2);
      });
      ctx.stroke();
    });
    ctx.restore();
  },
};

const discLabelPlugin = {
  id: 'discLabels',
  afterDatasetsDraw(chart: any) {
    const { ctx } = chart;
    const xs = chart.scales.x;
    const ys = chart.scales.yN;
    ctx.save();
    ctx.font = `bold 12px ${FONT}`;
    ctx.fillStyle = '#000000';
    ctx.textAlign = 'center';
    ctx.textBaseline = 'middle';
    DISCONTINUITY_WEEKS.forEach((w, i) => {
      ctx.fillText(DISCONTINUITY_LABELS[i], xs.getPixelForValue(w), ys.getPixelForValue(DISCONTINUITY_LEVEL) + 1);
    });
    ctx.restore();
  },
};

const lastLabelPlugin = {
  id: 'lastLabelInside',
  beforeDraw(chart: any) {
    ['x', 'xYear'].forEach((id) => {
      const s = chart.scales[id];
      if (!s || !s.getLabelItems) return;
      const items = s.getLabelItems(chart.chartArea);
      const last = items[items.length - 1];
      if (last && last.options) {
        last.options.textAlign = 'right';
        last.options.translation = [chart.chartArea.right + 1, last.options.translation[1]];
      }
    });
  },
};

function buildDatasets() {
  const ds: any[] = [];
  PANELS.forEach((p) => {
    ds.push({
      type: 'scatter',
      data: p.series,
      yAxisID: p.id,
      showLine: true,
      borderColor: 'rgba(120,150,225,0.28)',
      borderWidth: 0.8,
      pointRadius: 1.9,
      pointHoverRadius: 1.9,
      pointBackgroundColor: POINT_COLOR,
      pointBorderWidth: 0,
      errorBars: true,
      order: 20,
    });
    const outs: Pt[] = [];
    OUTLIER_PANEL.forEach((panel, i) => {
      if (panel === p.id) outs.push({ x: OUTLIER_WEEK[i], y: OUTLIER_VALUE[i], e: OUTLIER_SIGMA[i] });
    });
    ds.push({
      type: 'scatter',
      data: outs,
      yAxisID: p.id,
      pointRadius: 1.9,
      pointBackgroundColor: POINT_COLOR,
      pointBorderWidth: 0,
      errorBars: true,
      order: 19,
    });
    ANTENNA_WEEKS.forEach((w) => {
      ds.push({
        type: 'scatter',
        data: [{ x: w, y: p.min }, { x: w, y: p.max }],
        yAxisID: p.id,
        showLine: true,
        borderColor: '#ff0000',
        borderWidth: 2.5,
        pointRadius: 0,
        order: 6,
      });
    });
    RECEIVER_WEEKS.forEach((w) => {
      const shared = ANTENNA_WEEKS.includes(w);
      ds.push({
        type: 'scatter',
        data: [{ x: w, y: p.min }, { x: w, y: p.max }],
        yAxisID: p.id,
        showLine: true,
        borderColor: shared ? '#3d7d0a' : '#44cc44',
        borderWidth: 2.5,
        borderDash: shared ? [13, 3] : [11, 6],
        pointRadius: 0,
        order: 5,
      });
    });
  });
  ds.push({
    type: 'scatter',
    data: DISCONTINUITY_WEEKS.map((w) => ({ x: w, y: DISCONTINUITY_LEVEL })),
    yAxisID: 'yN',
    pointRadius: 9.5,
    pointHoverRadius: 9.5,
    pointBackgroundColor: 'rgba(225,200,250,0.55)',
    pointBorderColor: 'rgba(215,185,245,0.8)',
    pointBorderWidth: 1,
    clip: false,
    order: 1,
  });
  return ds;
}

export default function App() {
  const ref = useRef<HTMLCanvasElement | null>(null);

  useEffect(() => {
    if (!ref.current) return;
    Chart.defaults.font.family = FONT;
    const chart = new Chart(ref.current, {
      type: 'scatter',
      data: { datasets: buildDatasets() },
      options: {
        responsive: false,
        animation: false,
        events: [],
        layout: { padding: { left: 8, right: 10, top: 88, bottom: 41 } },
        plugins: { legend: { display: false }, title: { display: false }, tooltip: { enabled: false } },
        scales: {
          x: {
            type: 'linear',
            position: 'bottom',
            min: WEEK_RANGE[0],
            max: WEEK_RANGE[1],
            afterBuildTicks: (s: any) => { s.ticks = GPS_WEEK_TICKS.map((v) => ({ value: v })); },
            afterFit: (s: any) => { s.height = 46; s.paddingLeft = 0; s.paddingRight = 0; },
            ticks: { autoSkip: false, maxRotation: 0, color: '#666666', font: { size: 11, family: FONT }, padding: 1, callback: (v: any) => String(v) },
            grid: { drawOnChartArea: false, drawTicks: true, tickLength: 8, color: AXIS_LINE },
            border: { color: AXIS_LINE, width: 2 },
            title: { display: true, text: 'GPS Week', color: AXIS_TITLE_COLOR, font: { size: 12, weight: 'bold', family: FONT }, padding: { top: 0, bottom: 4 } },
          },
          xYear: {
            type: 'linear',
            position: 'top',
            min: YEAR_RANGE[0],
            max: YEAR_RANGE[1],
            afterBuildTicks: (s: any) => { s.ticks = YEAR_TICKS.map((v) => ({ value: v })); },
            afterFit: (s: any) => { s.height = 46; s.paddingLeft = 0; s.paddingRight = 0; },
            ticks: { autoSkip: false, maxRotation: 0, color: '#666666', font: { size: 11, family: FONT }, padding: 7, callback: (v: any) => Number(v).toFixed(1) },
            grid: { drawOnChartArea: false, drawTicks: true, tickLength: 8, color: AXIS_LINE },
            border: { color: AXIS_LINE, width: 2 },
            title: { display: true, text: 'Year', color: AXIS_TITLE_COLOR, font: { size: 12, weight: 'bold', family: FONT }, padding: { top: 1, bottom: 0 } },
          },
          yN: yAxis(PANELS[0]),
          gap1: gapAxis(4, 12),
          yE: yAxis(PANELS[1]),
          gap2: gapAxis(2, 10),
          yU: yAxis(PANELS[2]),
        } as any,
      },
      plugins: [errorBarPlugin, discLabelPlugin, lastLabelPlugin],
    } as any);
    return () => chart.destroy();
  }, []);

  const legendText = (color: string): React.CSSProperties => ({
    position: 'absolute', fontFamily: FONT, fontWeight: 'bold', fontSize: '12px', color, whiteSpace: 'nowrap', lineHeight: '14px',
  });

  return (
    <div style={{ position: 'fixed', left: 0, top: 0, width: 700, height: 504, background: '#ffffff', overflow: 'hidden' }}>
      <canvas ref={ref} width={700} height={504} style={{ position: 'absolute', left: 0, top: 0, width: 700, height: 504 }} />
      <div style={{ position: 'absolute', left: 21, top: 7, fontFamily: FONT, fontSize: '17.3px', color: '#333333', lineHeight: '22px', whiteSpace: 'nowrap' }}>
        ELBA00ITA 12721M002
      </div>
      <div style={{ position: 'absolute', left: 25, top: 34.5, fontFamily: FONT, fontSize: '12px', color: '#666666', lineHeight: '15px', whiteSpace: 'nowrap' }}>
        Residual Position Time Series<br />(Extended EPN Solution C2235U)
      </div>
      {/* legend */}
      <div style={{ position: 'absolute', left: 370, top: 29, width: 15, height: 2, background: '#cccccc' }} />
      <div style={{ ...legendText('#cccccc'), left: 391, top: 23 }}>Discontinuity</div>
      <div style={{ position: 'absolute', left: 530, top: 27, width: 6, height: 6, borderRadius: 3, background: 'rgba(205,170,240,0.7)' }} />
      <div style={{ ...legendText('#333333'), left: 547, top: 23 }}>Discontinuity</div>
      <div style={{ position: 'absolute', left: 370, top: 45, width: 15, height: 2, background: '#ff0000' }} />
      <div style={{ ...legendText('#333333'), left: 391, top: 39 }}>Antenna Chan…</div>
      <div style={{ position: 'absolute', left: 525, top: 45, width: 15, height: 2, background: '#44cc44' }} />
      <div style={{ ...legendText('#333333'), left: 547, top: 39 }}>Receiver Chan…</div>
      <div style={{ position: 'absolute', left: 370, top: 59, width: 6, height: 2, background: '#cccccc' }} />
      <div style={{ position: 'absolute', left: 379, top: 59, width: 6, height: 2, background: '#cccccc' }} />
      <div style={{ ...legendText('#cccccc'), left: 391, top: 53 }}>Firmware Cha…</div>
      <div style={{ position: 'absolute', right: 21, top: 489, fontFamily: FONT, fontSize: '9px', color: '#999999', whiteSpace: 'nowrap', lineHeight: '12px' }}>
        © EPN Central Bureau
      </div>
      <div style={{ position: 'absolute', left: 0, top: 0, width: 699, height: 502, boxSizing: 'border-box', border: '1px solid #8a8a8a', pointerEvents: 'none' }} />
    </div>
  );
}
